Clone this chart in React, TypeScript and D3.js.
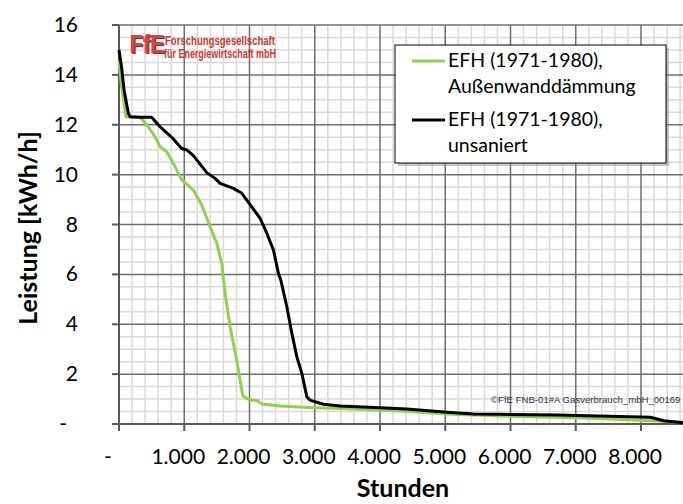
import React from "react";
import * as d3 from "d3";

const hoursUnsaniert = [0, 40, 77, 143, 170, 300, 500, 630, 833, 960, 1040, 1140, 1345, 1472, 1549, 1753, 1882, 2035, 2163, 2265, 2367, 2443, 2480, 2572, 2649, 2725, 2802, 2879, 2930, 3006, 3133, 3390, 4003, 4412, 5026, 5434, 5843, 6713, 8144, 8348, 8650, 8760];
const valuesUnsaniert = [15.0, 14.3, 13.4, 12.46, 12.32, 12.3, 12.3, 11.92, 11.43, 11.05, 10.99, 10.76, 10.08, 9.85, 9.65, 9.45, 9.25, 8.71, 8.25, 7.65, 6.98, 6.04, 5.77, 4.7, 3.64, 2.7, 2.03, 1.09, 0.96, 0.89, 0.79, 0.72, 0.65, 0.6, 0.47, 0.4, 0.39, 0.36, 0.27, 0.13, 0.05, 0.02];

const hoursDaemmung = [0, 5, 41, 77, 107, 322, 425, 552, 629, 731, 833, 960, 1140, 1268, 1396, 1498, 1575, 1626, 1702, 1804, 1897, 2009, 2112, 2188, 2469, 2980, 3282, 4310, 5026, 5843, 7000, 8000, 8760];
const valuesDaemmung = [14.6, 14.4, 13.5, 12.86, 12.32, 12.3, 12.0, 11.52, 11.12, 10.92, 10.45, 9.8, 9.38, 8.78, 7.91, 7.25, 6.44, 5.24, 3.9, 2.57, 1.12, 0.96, 0.94, 0.8, 0.72, 0.65, 0.63, 0.52, 0.4, 0.32, 0.25, 0.15, 0.05];

const yTicks = [0, 2, 4, 6, 8, 10, 12, 14, 16];
const xTicks = [0, 1000, 2000, 3000, 4000, 5000, 6000, 7000, 8000];
const legendLabels = [["EFH (1971-1980),", "Außenwanddämmung"], ["EFH (1971-1980),", "unsaniert"]];
const seriesColors = ["#92d050", "#000000"];

const W = 683;
const H = 504;
const FONT = "Lato, 'Open Sans', sans-serif";

export default function App() {
  const x = d3.scaleLinear().domain([0, 8760]).range([119, 690.6]);
  const y = d3.scaleLinear().domain([0, 16]).range([424, 25]);

  const minorX = d3.range(0, 8761, 200).filter((v) => v % 1000 !== 0);
  const minorY = d3.range(0, 16.01, 0.5).filter((v) => v % 2 !== 0);

  const line = d3
    .line<[number, number]>()
    .x((d) => x(d[0]))
    .y((d) => y(d[1]))
    .curve(d3.curveLinear);

  const green = line(hoursDaemmung.map((h, i) => [h, valuesDaemmung[i]]));
  const black = line(hoursUnsaniert.map((h, i) => [h, valuesUnsaniert[i]]));

  const fmt = (v: number) => (v === 0 ? "-" : d3.format(",")(v).replace(/,/g, "."));

  return (
    <svg width={W} height={H} style={{ position: "absolute", left: 0, top: 0, background: "#fff" }}>
      <rect x={0} y={0} width={W} height={H} fill="#fff" />
      {/* minor grid */}
      {minorX.map((v) => (
        <line key={"mx" + v} x1={x(v)} x2={x(v)} y1={y(16)} y2={y(0)} stroke="#d9d9d9" strokeWidth={1.5} />
      ))}
      {minorY.map((v) => (
        <line key={"my" + v} x1={x(0)} x2={W} y1={y(v)} y2={y(v)} stroke="#d9d9d9" strokeWidth={1.5} />
      ))}
      {/* major grid */}
      {xTicks.slice(1).map((v) => (
        <line key={"Mx" + v} x1={x(v)} x2={x(v)} y1={y(16)} y2={y(0)} stroke="#6e6e6e" strokeWidth={1.5} />
      ))}
      {yTicks.slice(1).map((v) => (
        <line key={"My" + v} x1={x(0)} x2={W} y1={y(v)} y2={y(v)} stroke="#6e6e6e" strokeWidth={1.5} />
      ))}
      {/* axes */}
      <line x1={x(0)} x2={x(0)} y1={y(16)} y2={y(0)} stroke="#595959" strokeWidth={2} />
      <line x1={x(0)} x2={W} y1={y(0)} y2={y(0)} stroke="#595959" strokeWidth={2} />
      {yTicks.map((v) => (
        <line key={"ty" + v} x1={x(0) - 7} x2={x(0)} y1={y(v)} y2={y(v)} stroke="#595959" strokeWidth={2} />
      ))}
      {xTicks.map((v) => (
        <line key={"tx" + v} x1={x(v)} x2={x(v)} y1={y(0)} y2={y(0) + 7} stroke="#595959" strokeWidth={2} />
      ))}

      {/* logo watermark */}
      <g fontFamily="'Liberation Sans', 'DejaVu Sans', sans-serif">
        <text x={131} y={54} fontSize={25} fontWeight="bold" fill="#8a2a2a" textLength={35} lengthAdjust="spacingAndGlyphs">FfE</text>
        <text x={129.5} y={52.5} fontSize={25} fontWeight="bold" fill="#d4463f" textLength={35} lengthAdjust="spacingAndGlyphs">FfE</text>
        <text x={165} y={45} fontSize={12.5} fontWeight="bold" fill="#c8372d" textLength={110} lengthAdjust="spacingAndGlyphs">Forschungsgesellschaft</text>
        <text x={164} y={57.5} fontSize={12.5} fontWeight="bold" fill="#c8372d" textLength={112} lengthAdjust="spacingAndGlyphs">für Energiewirtschaft mbH</text>
      </g>

      {/* copyright */}
      <text x={491} y={403} fontSize={9.6} fontFamily="'Liberation Sans', Arial, sans-serif" fill="#333">
        ©FfE FNB-01#A Gasverbrauch_mbH_00169
      </text>

      {/* series */}
      <path d={green ?? ""} fill="none" stroke={seriesColors[0]} strokeWidth={3} strokeLinejoin="round" />
      <path d={black ?? ""} fill="none" stroke={seriesColors[1]} strokeWidth={3} strokeLinejoin="round" />

      {/* tick labels */}
      <g fontFamily={FONT} fontSize={21} fill="#000">
        {yTicks.map((v) => (
          <text key={"ly" + v} x={v === 0 ? 67 : 78} y={y(v) + 7} textAnchor="end">
            {fmt(v)}
          </text>
        ))}
        {xTicks.map((v) => (
          <text key={"lx" + v} x={v === 0 ? x(v) - 11 : x(v) - 6} y={464} textAnchor="middle">
            {fmt(v)}
          </text>
        ))}
      </g>

      {/* axis titles */}
      <text x={403} y={497} textAnchor="middle" fontFamily={FONT} fontWeight="bold" fontSize={25}>
        Stunden
      </text>
      <text
        transform={`translate(37,228) rotate(-90)`}
        textAnchor="middle"
        fontFamily={FONT}
        fontWeight="bold"
        fontSize={25}
      >
        Leistung [kWh/h]
      </text>

      {/* legend */}
      <rect x={398} y={48} width={271} height={118} fill="#8c8c8c" opacity={0.5} />
      <rect x={395} y={45} width={271} height={118} fill="#fff" stroke="#000" strokeWidth={1} />
      {legendLabels.map((lines, i) => (
        <g key={"lg" + i}>
          <line x1={412} x2={445} y1={61 + i * 59} y2={61 + i * 59} stroke={seriesColors[i]} strokeWidth={3} />
          <text x={448} y={67 + i * 59} fontFamily={FONT} fontSize={19.5}>
            {lines[0]}
          </text>
          <text x={448} y={93 + i * 59} fontFamily={FONT} fontSize={19.5}>
            {lines[1]}
          </text>
        </g>
      ))}
    </svg>
  );
}
